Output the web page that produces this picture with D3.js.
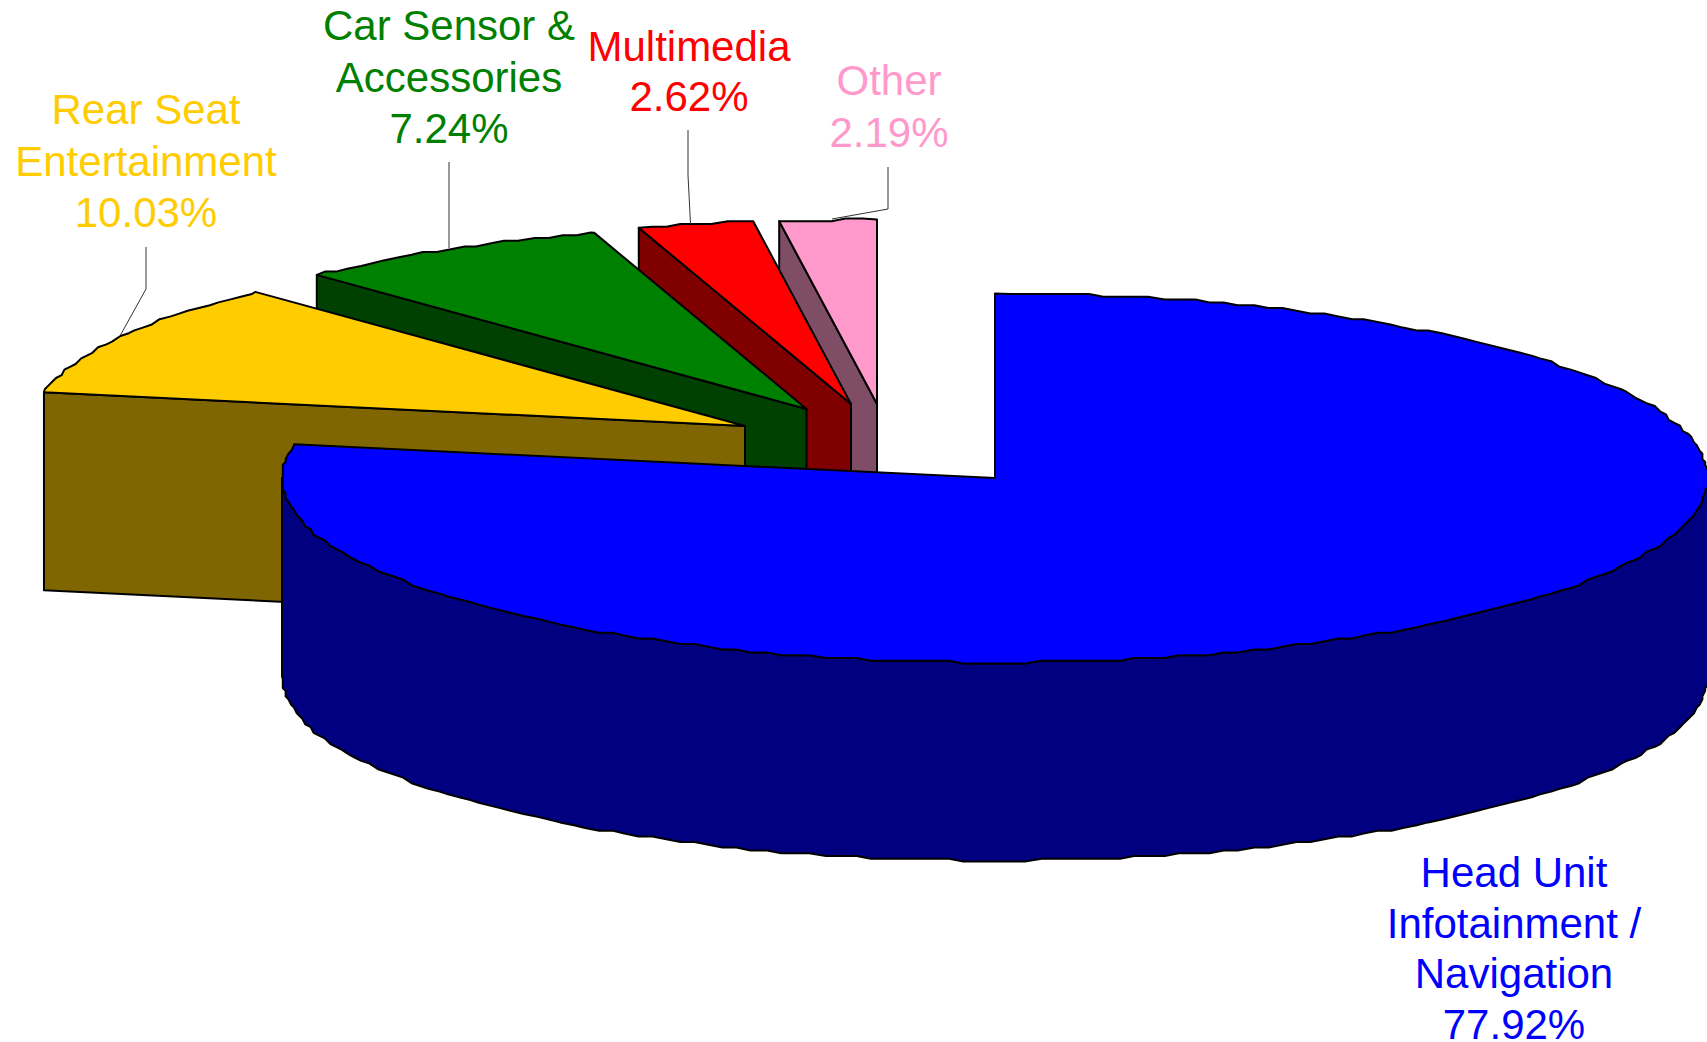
<!DOCTYPE html>
<html>
<head>
<meta charset="utf-8">
<style>
  html, body { margin: 0; padding: 0; background: #fff; overflow: hidden; }
  text { font-family: 'Liberation Sans', Arial, sans-serif; font-size: 42px; text-anchor: middle; }
</style>
</head>
<body>
<div id="app"></div>
<script src="https://cdn.jsdelivr.net/npm/d3@7"></script>
<script>
'use strict'

// data
const categories = ['Head Unit Infotainment / Navigation', 'Rear Seat Entertainment', 'Car Sensor & Accessories', 'Multimedia', 'Other']
const shares = [77.92, 10.03, 7.24, 2.62, 2.19]
const labelLines = [
  ['Head Unit', 'Infotainment /', 'Navigation'],
  ['Rear Seat', 'Entertainment'],
  ['Car Sensor &', 'Accessories'],
  ['Multimedia'],
  ['Other']
]

// styles
const topColors = ['#0000ff', '#ffcc00', '#008000', '#ff0000', '#ff99cc']
const sideColors = ['#000080', '#806600', '#004000', '#800000', '#804d66']

// layout
const width = 1707
const height = 1042
const rx = 713
const ry = 184.5
const depth = 198
const centers = [[995, 478], [745, 426], [806.5, 409], [851, 404], [877, 404]]
const labelX = [1514, 146, 449, 689, 889]
const labelY = [887, 124, 40, 61, 95]
const lineGap = [50.5, 51.5, 51.5, 50, 52]
const leaders = [
  null,
  [[146, 247], [146, 289], [120.5, 335]],
  [[449, 162], [449, 248]],
  [[688, 130], [688, 175], [690.5, 224]],
  [[888, 167], [888, 209], [832, 219]]
]

const svg = d3.select('#app').append('svg')
  .attr('width', width)
  .attr('height', height)
  .style('display', 'block')

const slices = d3.pie().value(d => d).sort(null)(shares)

const unitX = d3.scaleLinear().domain([-1, 1]).range([-rx, rx])
const unitY = d3.scaleLinear().domain([-1, 1]).range([-ry, ry])
const line = d3.line()

// the original outline is a coarse polyline, so snap the rim to a pixel grid
const grid = 2.8
const snap = v => Math.round(v / grid) * grid
const step = 1.25 * Math.PI / 180

function rim(a0, a1, [cx, cy]) {
  // angles sit on one shared grid so the wall and the top share their rim
  const first = Math.ceil(a0 / step + 0.01)
  const last = Math.floor(a1 / step - 0.01)
  const inner = d3.range(first, last + 1).map(k => k * step)
  const point = a => [cx + unitX(Math.sin(a)), cy + unitY(-Math.cos(a))]
  return [point(a0)]
    .concat(inner.map(a => point(a).map(snap)))
    .concat([point(a1)])
}

const strokeIt = sel => sel
  .attr('stroke', '#000')
  .attr('stroke-width', 2)
  .attr('stroke-linejoin', 'round')

d3.range(slices.length).reverse().forEach(i => {
  const s = slices[i]
  const c = centers[i]
  const start = [c[0] + unitX(Math.sin(s.startAngle)), c[1] + unitY(-Math.cos(s.startAngle))]
  const g = svg.append('g').attr('class', 'slice')

  if (i === 0) {
    // outer wall of the big slice, front half only
    const top = rim(Math.PI / 2, 3 * Math.PI / 2, c)
    const bottom = top.map(p => [p[0], p[1] + depth]).reverse()
    g.append('path')
      .attr('d', line(top.concat(bottom)) + 'Z')
      .attr('fill', sideColors[i])
      .call(strokeIt)
  } else {
    // cut face toward the viewer
    const face = [start, c, [c[0], c[1] + depth], [start[0], start[1] + depth]]
    g.append('path')
      .attr('d', line(face) + 'Z')
      .attr('fill', sideColors[i])
      .call(strokeIt)
  }

  g.append('path')
    .attr('d', line([c].concat(rim(s.startAngle, s.endAngle, c))) + 'Z')
    .attr('fill', topColors[i])
    .call(strokeIt)
})

// leader lines
svg.selectAll('.leader')
  .data(leaders.filter(d => d))
  .enter().append('path')
  .attr('class', 'leader')
  .attr('d', d => line(d))
  .attr('fill', 'none')
  .attr('stroke', '#333')
  .attr('stroke-width', 1)

// labels
const labels = svg.selectAll('.label')
  .data(categories)
  .enter().append('text')
  .attr('class', 'label')
  .attr('fill', (d, i) => topColors[i])

labels.each(function(d, i) {
  const rows = labelLines[i].concat([`${shares[i].toFixed(2)}%`])
  d3.select(this).selectAll('tspan')
    .data(rows)
    .enter().append('tspan')
    .attr('x', labelX[i])
    .attr('y', (r, k) => labelY[i] + k * lineGap[i])
    .text(r => r)
})
</script>
</body>
</html>
